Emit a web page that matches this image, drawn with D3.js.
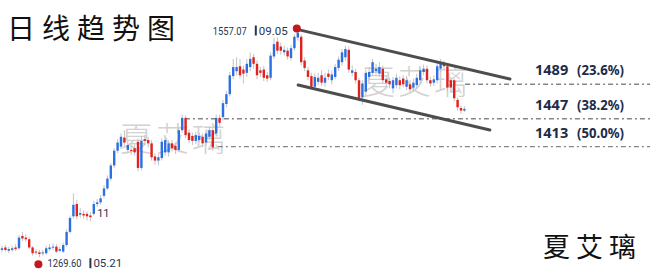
<!DOCTYPE html>
<html>
<head>
<meta charset="utf-8">
<script src="https://cdn.jsdelivr.net/npm/d3@7"></script>
<style>
  body { margin: 0; background: #fff; }
  svg { display: block; }
</style>
</head>
<body>
<div id="chart"></div>
<script>
/* daily candlestick trend chart */

// OHLC, one entry per trading day
const opens = [1287,1290,1286,1287,1290,1289,1304,1302,1300,1290,1285,1284,1283,1283,1288,1290,1291,1286,1285,1293,
  1309,1328,1343,1330,1331,1331,1329,1331,1343,1345,1353,1362,1374,1390,1408,1413,1424,1409,1409,1411,
  1419,1387,1422,1421,1417,1401,1396,1399,1406,1406,1417,1414,1409,1433,1448,1430,1426,1420,1421,1425,
  1418,1425,1433,1429,1448,1449,1465,1477,1499,1505,1511,1507,1503,1510,1522,1514,1506,1507,1500,1497,
  1523,1541,1535,1528,1530,1521,1533,1546,1547,1518,1506,1499,1486,1492,1500,1491,1502,1494,1498,1509,
  1516,1522,1531,1503,1504,1494,1473,1480,1498,1503,1505,1502,1508,1495,1493,1484,1488,1494,1496,1486,
  1489,1485,1488,1494,1504,1508,1494,1491,1494,1508,1515,1511,1494,1494,1470,1460,1457];
const closes = [1289,1287,1288,1289,1288,1302,1301,1300,1290,1283,1284,1282,1284,1289,1290,1291,1285,1288,1293,1309,
  1326,1342,1328,1332,1329,1328,1327,1343,1345,1350,1362,1374,1390,1408,1418,1425,1418,1415,1408,1406,
  1387,1420,1420,1417,1400,1396,1400,1419,1421,1417,1411,1409,1433,1448,1427,1421,1420,1427,1426,1417,
  1429,1433,1412,1448,1442,1466,1477,1500,1510,1510,1500,1502,1514,1520,1514,1500,1503,1497,1496,1524,
  1538,1530,1530,1531,1523,1533,1547,1552,1516,1509,1498,1486,1498,1497,1491,1497,1498,1501,1510,1519,
  1528,1532,1507,1506,1494,1472,1490,1503,1504,1516,1508,1510,1494,1491,1489,1494,1497,1488,1489,1494,
  1483,1491,1497,1506,1508,1494,1490,1495,1511,1516,1511,1485,1485,1472,1461,1457,1459];
const highs = [1292,1293,1291,1292,1294,1305,1309,1306,1303,1292,1288,1287,1287,1292,1294,1295,1294,1291,1296,1312,
  1329,1356,1348,1338,1335,1334,1333,1347,1349,1354,1366,1378,1393,1411,1422,1429,1433,1420,1414,1416,
  1423,1426,1427,1425,1421,1405,1404,1423,1425,1421,1421,1418,1437,1452,1451,1434,1430,1431,1430,1429,
  1433,1437,1436,1452,1452,1470,1481,1504,1520,1522,1520,1512,1520,1528,1526,1518,1510,1511,1504,1528,
  1546,1546,1540,1536,1534,1537,1550,1557,1550,1522,1510,1503,1502,1503,1506,1503,1507,1506,1514,1523,
  1532,1536,1535,1512,1508,1497,1494,1507,1510,1520,1514,1516,1512,1499,1497,1498,1502,1499,1500,1499,
  1494,1496,1502,1510,1513,1512,1498,1500,1515,1520,1518,1515,1498,1496,1473,1463,1462];
const lows = [1284,1285,1283,1285,1286,1287,1298,1297,1288,1280,1281,1278,1280,1281,1286,1287,1283,1284,1283,1291,
  1307,1325,1324,1326,1325,1323,1322,1329,1339,1342,1350,1360,1371,1387,1405,1410,1414,1405,1403,1402,
  1383,1384,1415,1412,1396,1391,1390,1396,1402,1401,1407,1404,1406,1430,1423,1417,1415,1416,1418,1413,
  1414,1421,1408,1425,1438,1445,1461,1474,1495,1500,1496,1490,1498,1505,1508,1495,1498,1493,1492,1494,
  1520,1526,1525,1524,1519,1518,1530,1542,1512,1505,1494,1483,1482,1488,1487,1486,1494,1489,1495,1505,
  1512,1518,1503,1499,1490,1468,1464,1476,1494,1500,1500,1498,1490,1486,1484,1478,1484,1483,1485,1482,
  1479,1480,1484,1490,1500,1490,1486,1487,1490,1504,1507,1481,1480,1468,1457,1453,1455];

// retracement levels
const levels = [1489, 1447, 1413];
const levelPct = ["(23.6%)", "(38.2%)", "(50.0%)"];
const levelStart = [136.2, 53.8, 63.5];   // day index where each line begins

// marked extremes
const peak = { i: 87, price: 1557.07, date: "09.05" };
const trough = { i: 11, price: 1269.60, date: "05.21" };

// channel lines [startIndex, startPrice, endIndex, endPrice]
const channel = [[86.8, 1556, 149.4, 1495.5], [87.1, 1488.1, 143.5, 1433.3]];

const width = 650, height = 271;

const data = opens.map((o, i) => ({ i, o, c: closes[i], h: highs[i], l: lows[i] }));

let svg = d3.select("#chart")
  .append("svg")
  .attr("width", width)
  .attr("height", height)
  .attr("viewBox", [0, 0, width, height]);

let x = d3.scaleLinear()
  .domain([0, data.length - 1])
  .range([2, 464.4]);

let y = d3.scaleLinear()
  .domain([1557.07, 1269.6])
  .range([28.5, 264.2]);

// watermarks
svg.selectAll(".wm")
  .data([[120, 151], [362, 94]])
  .join("text")
  .attr("x", d => d[0])
  .attr("y", d => d[1])
  .attr("font-family", "Noto Sans CJK SC")
  .attr("font-weight", 300)
  .attr("font-size", 33)
  .attr("letter-spacing", 3)
  .attr("fill", "#c4c4c4")
  .attr("opacity", 0.75)
  .text("夏艾璃");

// retracement lines
svg.selectAll(".lvl")
  .data(levels)
  .join("line")
  .attr("x1", (d, k) => x(levelStart[k]))
  .attr("x2", width)
  .attr("y1", d => y(d))
  .attr("y2", d => y(d))
  .attr("stroke", "#858585")
  .attr("stroke-width", 1.4)
  .attr("stroke-dasharray", "5,3,2,3");

// candles
let candle = svg.selectAll(".candle")
  .data(data)
  .join("g")
  .attr("class", "candle");

candle.append("line")
  .attr("x1", d => x(d.i))
  .attr("x2", d => x(d.i))
  .attr("y1", d => y(d.h))
  .attr("y2", d => y(d.l))
  .attr("stroke", "#c2c2c2")
  .attr("stroke-width", 1);

candle.append("rect")
  .attr("x", d => x(d.i) - 1.2)
  .attr("width", 2.4)
  .attr("y", d => y(Math.max(d.o, d.c)))
  .attr("height", d => Math.max(1, Math.abs(y(d.o) - y(d.c))))
  .attr("fill", d => d.c >= d.o ? "#2b6fe0" : "#e0211d");

// channel
svg.selectAll(".chan")
  .data(channel)
  .join("line")
  .attr("x1", d => x(d[0]))
  .attr("y1", d => y(d[1]))
  .attr("x2", d => x(d[2]))
  .attr("y2", d => y(d[3]))
  .attr("stroke", "#4d4d4d")
  .attr("stroke-width", 3)
  .attr("stroke-linecap", "round");

// level labels
svg.selectAll(".lvlnum")
  .data(levels)
  .join("text")
  .attr("x", 535)
  .attr("y", d => y(d) - 9)
  .attr("font-family", "Noto Sans")
  .attr("font-weight", "bold")
  .attr("font-size", 14.5)
  .attr("fill", "#1c2b4a")
  .text(d => d);

svg.selectAll(".lvlpct")
  .data(levels)
  .join("text")
  .attr("x", 577)
  .attr("y", d => y(d) - 9)
  .attr("font-family", "Noto Sans")
  .attr("font-weight", "bold")
  .attr("font-size", 14.5)
  .attr("fill", "#1c2b4a")
  .attr("textLength", 47)
  .attr("lengthAdjust", "spacingAndGlyphs")
  .text((d, k) => levelPct[k]);

// extreme markers
const ink = "#2a3550";
[peak, trough].forEach((m, k) => {
  const px = x(m.i), py = y(m.price);
  svg.append("circle")
    .attr("cx", px - 1)
    .attr("cy", py)
    .attr("r", 4)
    .attr("fill", "#c8161d");
  const tx = k ? px + 8 : px - 85;
  const ty = k ? py + 3 : py + 6;
  svg.append("text")
    .attr("x", tx).attr("y", ty)
    .attr("font-family", "Roboto")
    .attr("font-size", 11.5)
    .attr("fill", ink)
    .attr("textLength", 34)
    .attr("lengthAdjust", "spacingAndGlyphs")
    .text(m.price.toFixed(2));
  svg.append("rect")
    .attr("x", tx + 42).attr("y", ty - 9)
    .attr("width", 2).attr("height", 10)
    .attr("fill", ink);
  svg.append("text")
    .attr("x", tx + 46).attr("y", ty)
    .attr("font-family", "Roboto")
    .attr("font-size", 11.5)
    .attr("fill", ink)
    .text(m.date);
});

// small tag near day 28
svg.append("rect")
  .attr("x", x(28) - 1).attr("y", 207)
  .attr("width", 11).attr("height", 11)
  .attr("fill", "#fff");
svg.append("text")
  .attr("x", x(28)).attr("y", 217)
  .attr("font-family", "Roboto")
  .attr("font-size", 11)
  .attr("fill", ink)
  .text("11");

// title and signature
svg.append("text")
  .attr("x", 7).attr("y", 39)
  .attr("font-family", "Noto Sans CJK SC")
  .attr("font-size", 28)
  .attr("letter-spacing", 7)
  .attr("fill", "#111")
  .text("日线趋势图");

svg.append("text")
  .attr("x", 543).attr("y", 257)
  .attr("font-family", "Noto Sans CJK SC")
  .attr("font-size", 27)
  .attr("letter-spacing", 6)
  .attr("fill", "#111")
  .text("夏艾璃");
</script>
</body>
</html>
